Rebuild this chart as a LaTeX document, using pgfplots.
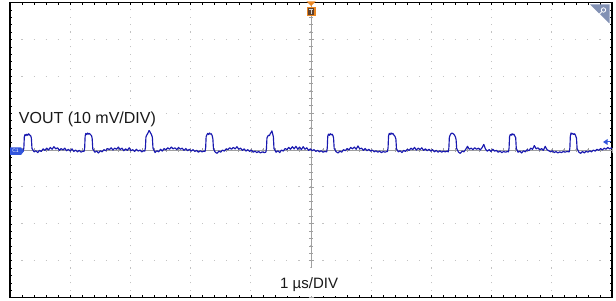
\documentclass[border=0pt]{standalone}
\usepackage{pgfplots}
\pgfplotsset{compat=1.18}
\usepackage{fontspec}
\setmainfont{Liberation Sans}
\definecolor{trace}{RGB}{25,25,175}
\definecolor{cblue}{RGB}{50,85,220}
\definecolor{griddot}{RGB}{195,195,195}
\definecolor{centerline}{RGB}{160,160,160}
\definecolor{trigor}{RGB}{235,135,35}
\definecolor{trigin}{RGB}{95,65,45}
\definecolor{corner}{RGB}{130,145,180}
\begin{document}
\begin{tikzpicture}
% frame + dotted grid
\begin{axis}[at={(10pt,2.5pt)}, anchor=south west, scale only axis,
  width=602pt, height=295pt,
  xmin=-5, xmax=5, ymin=-40, ymax=40,
  xtick={-5,...,5}, ytick={-40,-30,...,40},
  xticklabels={}, yticklabels={},
  minor x tick num=4, minor y tick num=4,
  major tick length=2.5pt, minor tick length=2.5pt, tick align=inside,
  tick style={black, line width=0.5pt},
  grid=major,
  x grid style={griddot, line width=1.1pt, line cap=butt, dash pattern=on 1.1pt off 6.275pt, dash phase=0.55pt},
  y grid style={griddot, line width=1.1pt, line cap=butt, dash pattern=on 1.1pt off 10.94pt, dash phase=0.55pt},
  axis line style={black, line width=1.6pt}]
\end{axis}
% centre cross + trace
\begin{axis}[at={(10pt,2.5pt)}, anchor=south west, scale only axis,
  width=602pt, height=295pt,
  xmin=-5, xmax=5, ymin=-40, ymax=40,
  axis lines=middle,
  axis line style={-, centerline, line width=0.7pt},
  every inner x axis line/.append style={-},
  every inner y axis line/.append style={-},
  xtick={-5,...,5}, ytick={-40,-30,...,40},
  xticklabels={}, yticklabels={},
  minor x tick num=4, minor y tick num=4,
  major tick length=5pt, minor tick length=4pt, tick align=center,
  tick style={centerline, line width=0.6pt}]
\addplot[trace, line width=1.15pt, line join=round, mark=none] table {
x y
-5.00 0.2
-4.97 -0.2
-4.94 0.3
-4.91 -0.1
-4.88 0.4
-4.85 0.0
-4.82 -0.3
-4.79 -0.2
-4.780 -0.3
-4.770 0.6
-4.762 3.6
-4.750 4.2
-4.735 3.9
-4.720 4.3
-4.705 4.0
-4.690 4.4
-4.675 4.1
-4.655 3.8
-4.645 3.2
-4.635 0.4
-4.60 -0.5
-4.57 -0.2
-4.54 -0.7
-4.51 -0.1
-4.48 -0.4
-4.45 0.3
-4.42 -0.1
-4.39 0.5
-4.36 0.0
-4.33 0.7
-4.30 0.2
-4.27 0.9
-4.24 0.3
-4.21 0.6
-4.18 -0.1
-4.15 0.4
-4.12 0.0
-4.09 0.5
-4.06 -0.2
-4.03 0.2
-4.00 -0.3
-3.97 0.3
-3.94 -0.4
-3.91 0.0
-3.88 -0.5
-3.85 -0.1
-3.82 -0.6
-3.79 -0.3
-3.770 -0.4
-3.760 0.5
-3.752 3.7
-3.740 4.5
-3.725 4.2
-3.710 4.6
-3.695 4.3
-3.680 4.5
-3.665 4.2
-3.645 3.9
-3.635 3.1
-3.625 0.3
-3.59 -0.6
-3.56 -0.3
-3.53 -0.8
-3.50 -0.2
-3.47 -0.5
-3.44 0.1
-3.41 -0.2
-3.38 0.4
-3.35 0.1
-3.32 0.6
-3.29 0.0
-3.26 0.5
-3.23 0.2
-3.20 0.8
-3.17 0.1
-3.14 0.5
-3.11 -0.2
-3.08 0.3
-3.05 -0.1
-3.02 0.6
-2.99 -0.2
-2.96 0.1
-2.93 -0.4
-2.90 0.2
-2.87 -0.3
-2.84 0.0
-2.81 -0.5
-2.78 -0.2
-2.760 -0.3
-2.750 0.7
-2.742 3.5
-2.730 4.0
-2.715 4.4
-2.700 4.9
-2.690 5.3
-2.680 5.1
-2.665 4.6
-2.650 4.2
-2.635 3.4
-2.625 0.5
-2.59 -0.7
-2.56 -0.2
-2.53 -0.5
-2.50 0.2
-2.47 -0.3
-2.44 0.4
-2.41 0.0
-2.38 0.6
-2.35 0.2
-2.32 0.8
-2.29 0.3
-2.26 0.6
-2.23 0.1
-2.20 0.7
-2.17 0.2
-2.14 0.5
-2.11 -0.1
-2.08 0.4
-2.05 -0.2
-2.02 0.2
-1.99 -0.3
-1.96 0.1
-1.93 -0.4
-1.90 -0.1
-1.87 -0.6
-1.84 -0.2
-1.81 -0.5
-1.78 -0.3
-1.760 -0.4
-1.750 0.6
-1.742 3.6
-1.730 4.1
-1.715 4.5
-1.700 4.2
-1.685 4.6
-1.670 4.3
-1.655 4.4
-1.640 3.8
-1.630 3.0
-1.620 0.3
-1.59 -0.6
-1.56 -0.9
-1.53 -0.3
-1.50 -0.6
-1.47 0.0
-1.44 -0.3
-1.41 0.3
-1.38 0.1
-1.35 0.6
-1.32 0.2
-1.29 0.7
-1.26 0.3
-1.23 0.9
-1.20 0.2
-1.17 0.5
-1.14 -0.1
-1.11 0.3
-1.08 -0.3
-1.05 0.1
-1.02 -0.4
-0.99 0.0
-0.96 -0.6
-0.93 -0.3
-0.90 -0.7
-0.87 -0.4
-0.84 -0.8
-0.81 -0.5
-0.78 -0.7
-0.750 -0.6
-0.740 0.4
-0.732 3.2
-0.720 3.7
-0.705 4.0
-0.690 3.9
-0.675 4.5
-0.660 4.8
-0.650 5.2
-0.640 4.6
-0.625 3.6
-0.615 0.4
-0.58 -0.6
-0.55 -0.2
-0.52 -0.7
-0.49 0.0
-0.46 -0.3
-0.43 0.4
-0.40 0.1
-0.37 0.7
-0.34 0.2
-0.31 0.9
-0.28 0.3
-0.25 1.0
-0.22 0.2
-0.19 0.8
-0.16 0.1
-0.13 0.9
-0.10 0.2
-0.07 0.6
-0.04 -0.1
-0.01 0.3
0.02 -0.2
0.05 0.1
0.08 -0.4
0.11 -0.1
0.14 -0.5
0.17 -0.2
0.20 -0.6
0.23 -0.4
0.260 -0.5
0.270 0.5
0.278 3.7
0.290 4.3
0.305 4.0
0.320 4.4
0.335 4.1
0.350 4.3
0.365 3.9
0.375 3.2
0.385 0.4
0.42 -0.5
0.45 -0.8
0.48 -0.3
0.51 -0.6
0.54 0.1
0.57 -0.2
0.60 0.4
0.63 0.0
0.66 0.7
0.69 0.3
0.72 0.8
0.75 0.2
0.78 1.1
0.81 0.3
0.84 0.5
0.87 -0.1
0.90 0.4
0.93 -0.2
0.96 0.2
0.99 -0.3
1.02 0.0
1.05 -0.5
1.08 -0.2
1.11 -0.6
1.14 -0.3
1.17 -0.7
1.20 -0.4
1.23 -0.6
1.26 -0.4
1.270 -0.4
1.280 0.6
1.288 3.8
1.300 4.5
1.315 4.2
1.330 4.6
1.345 4.3
1.360 4.5
1.375 4.1
1.395 3.7
1.410 3.0
1.420 0.3
1.45 -0.5
1.48 -0.2
1.51 -0.7
1.54 -0.1
1.57 -0.4
1.60 0.2
1.63 -0.1
1.66 0.5
1.69 0.1
1.72 0.7
1.75 0.0
1.78 0.5
1.81 0.1
1.84 0.6
1.87 -0.1
1.90 0.3
1.93 -0.2
1.96 0.2
1.99 -0.3
2.02 0.1
2.05 -0.5
2.08 -0.1
2.11 -0.6
2.14 -0.2
2.17 -0.6
2.20 -0.3
2.23 -0.5
2.26 -0.3
2.280 -0.5
2.290 0.5
2.298 3.4
2.310 4.0
2.325 4.4
2.340 4.6
2.355 4.5
2.370 4.3
2.385 4.0
2.400 3.5
2.410 2.8
2.420 0.4
2.45 -0.6
2.48 -0.9
2.51 -0.3
2.54 -0.5
2.57 0.2
2.60 1.0
2.63 0.2
2.66 0.5
2.69 0.1
2.72 0.6
2.75 0.2
2.78 0.5
2.81 0.0
2.84 0.6
2.87 1.5
2.90 0.2
2.93 -0.3
2.96 0.1
2.99 -0.4
3.02 0.2
3.05 -0.3
3.08 -0.1
3.11 -0.6
3.14 -0.3
3.17 -0.7
3.20 -0.4
3.23 -0.6
3.26 -0.4
3.280 -0.5
3.290 0.5
3.298 3.6
3.310 4.2
3.325 4.0
3.340 4.4
3.355 4.1
3.370 4.3
3.385 3.8
3.400 3.3
3.410 0.4
3.44 -0.6
3.47 -0.3
3.50 -0.8
3.53 -0.2
3.56 -0.5
3.59 0.1
3.62 -0.2
3.65 0.5
3.68 0.2
3.71 1.2
3.74 0.3
3.77 0.6
3.80 0.0
3.83 0.4
3.86 -0.1
3.89 1.0
3.92 0.1
3.95 -0.2
3.98 -0.5
4.01 -0.2
4.04 -0.7
4.07 -0.4
4.10 -0.8
4.13 -0.5
4.16 -0.7
4.19 -0.4
4.22 -0.6
4.25 -0.4
4.28 -0.5
4.290 -0.5
4.300 0.5
4.308 3.8
4.320 4.6
4.335 4.3
4.350 4.5
4.365 4.2
4.380 4.4
4.395 3.9
4.410 3.2
4.420 0.4
4.45 -0.6
4.48 -0.9
4.51 -0.4
4.54 -0.8
4.57 -0.3
4.60 -0.6
4.63 -0.2
4.66 -0.5
4.69 0.0
4.72 -0.3
4.75 0.2
4.78 -0.1
4.81 0.4
4.84 0.0
4.87 0.5
4.90 0.2
4.93 0.7
4.96 0.3
4.99 0.6
5.00 0.4
};
\end{axis}
% channel tag
\fill[cblue] (10pt,152.7pt) -- (21pt,152.7pt) -- (24pt,148.8pt) -- (21pt,145pt) -- (10pt,145pt) -- cycle;
\node[white, inner sep=0pt, font=\fontsize{5}{5}\selectfont] at (15.5pt,148.8pt) {C1};
% trigger level arrow
\fill[cblue] (603pt,158pt) -- (607.5pt,161pt) -- (607.5pt,155pt) -- cycle;
\draw[cblue, line width=1pt] (606pt,158pt) -- (610.5pt,158pt);
% trigger position marker
\fill[trigor] (306.5pt,298.5pt) -- (315.5pt,298.5pt) -- (311pt,294pt) -- cycle;
\fill[trigor] (306.5pt,283.5pt) rectangle (315.5pt,293pt);
\fill[trigin] (307.7pt,284.7pt) rectangle (314.3pt,291.8pt);
\draw[white!85!black, line width=0.6pt] (309pt,290.3pt) -- (313pt,290.3pt) (311pt,290.3pt) -- (311pt,286pt);
% zoom corner
\fill[corner] (590pt,295.5pt) -- (609.5pt,295.5pt) -- (609.5pt,276.5pt) -- cycle;
\draw[white, line width=0.8pt] (603.5pt,290pt) circle (2.2pt);
\draw[white, line width=1pt] (601.8pt,288.3pt) -- (598.5pt,285pt);
% labels
\node[anchor=base west, inner sep=0pt, outer sep=0pt, fill=white, inner xsep=2pt, inner ysep=3pt, xshift=-2pt, text=black!90, font=\fontsize{16}{16}\selectfont] at (19pt,176.5pt) {VOUT (10 mV/DIV)};
\fill[white] (277pt,4pt) rectangle (342pt,32pt);
\node[anchor=base west, inner sep=0pt, text=black!90, font=\fontsize{15}{15}\selectfont] at (280pt,11.7pt) {1 µs/DIV};
\pgfresetboundingbox
\useasboundingbox (0,0) rectangle (616pt,300pt);
\end{tikzpicture}
\end{document}
